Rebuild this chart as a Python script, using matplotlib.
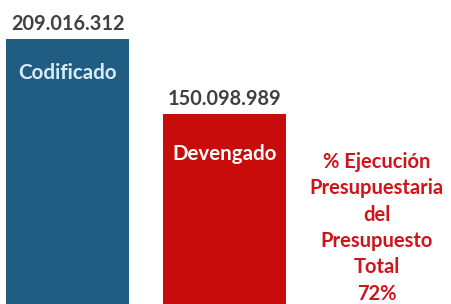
import matplotlib
matplotlib.use("Agg")
import matplotlib.pyplot as plt

categories = ["Codificado", "Devengado"]
values = [209016312, 150098989]
value_labels = ["209.016.312", "150.098.989"]
bar_colors = ["#215d83", "#c80b0b"]
name_colors = ["#d8ecf8", "#ffffff"]
note_lines = ["% Ejecución", "Presupuestaria", "del", "Presupuesto", "Total", "72%"]

plt.rcParams['font.family'] = ['Lato', 'DejaVu Sans']

fig = plt.figure(figsize=(4.51, 3.04), dpi=100)
ax = fig.add_axes([0, 0, 1, 1])
x = [0, 1]
ax.bar(x, values, width=0.78, color=bar_colors)
ax.set_xlim(-0.43, 2.443)
ax.set_ylim(0, 239.7e6)
ax.axis('off')

for xi, v, lab in zip(x, values, value_labels):
    ax.text(xi, v + 4e6, lab, ha='center', va='bottom', fontsize=14.3,
            fontweight='bold', color='#404040')
name_offsets = [27e6, 32e6]
for xi, v, name, c, off in zip(x, values, categories, name_colors, name_offsets):
    ax.text(xi, v - off, name, ha='center', va='center', fontsize=14.8,
            fontweight='bold', color=c)

note_x = 1.97
y0 = 112e6
step = 20.8e6
for i, line in enumerate(note_lines):
    ax.text(note_x, y0 - i * step, line, ha='center', va='center',
            fontsize=14.5, fontweight='bold', color='#d0141c')

fig.savefig("out.png", dpi=100)
